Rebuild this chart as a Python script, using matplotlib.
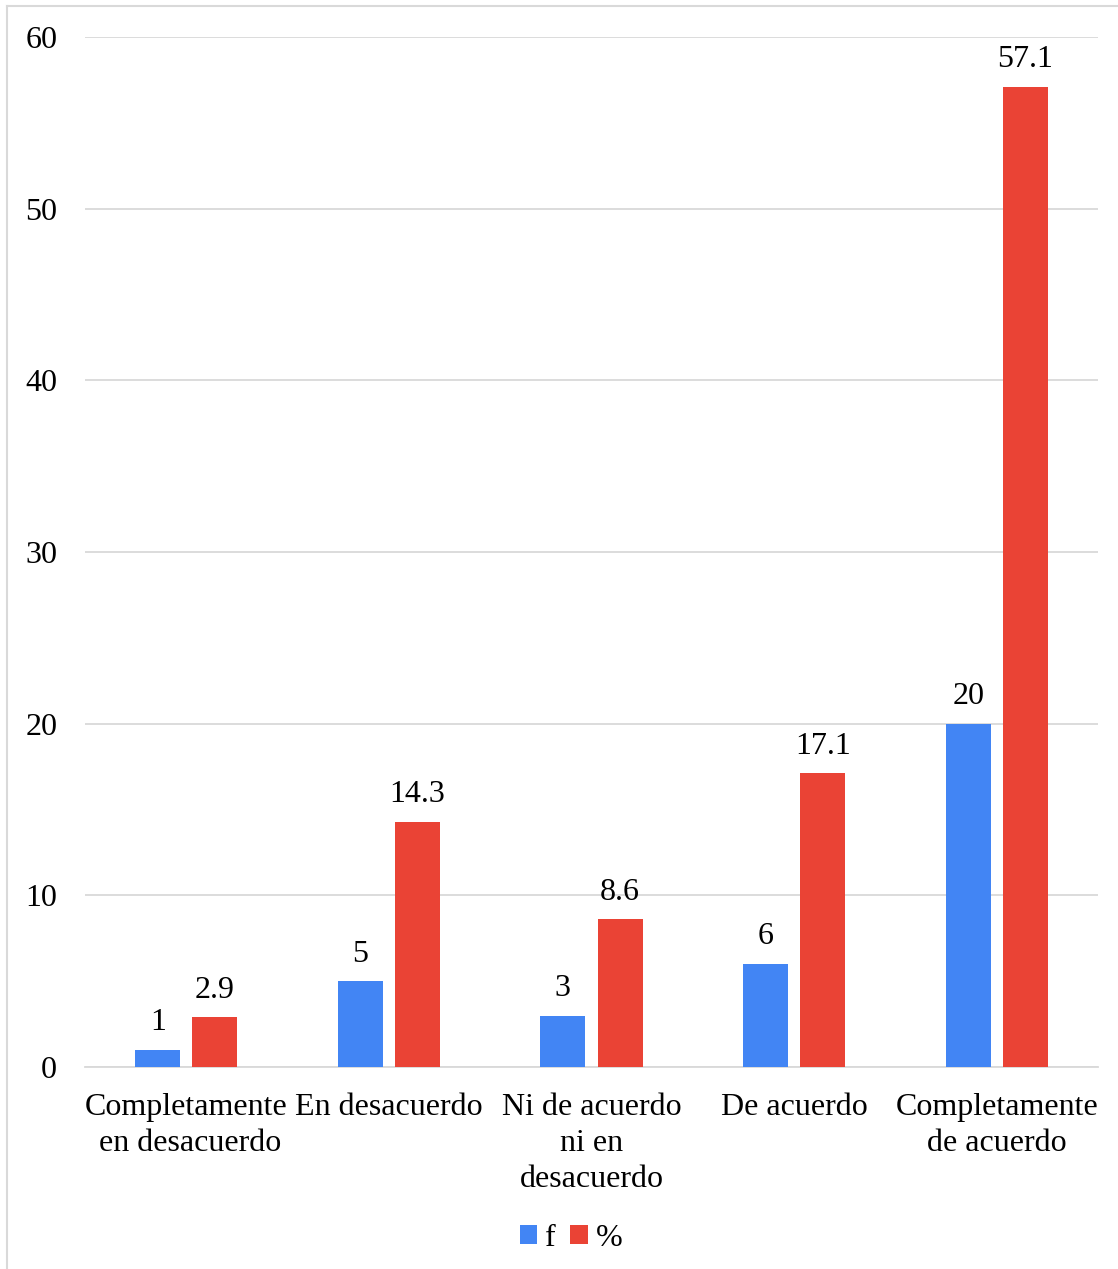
import numpy as np
import matplotlib.pyplot as plt
from matplotlib.lines import Line2D

plt.rcParams['font.family'] = ['Liberation Serif', 'DejaVu Serif']

categorias = ['Completamente\n en desacuerdo', 'En desacuerdo', 'Ni de acuerdo\nni en\ndesacuerdo',
              'De acuerdo', 'Completamente\nde acuerdo']
frecuencia = [1, 5, 3, 6, 20]
porcentaje = [2.9, 14.3, 8.6, 17.1, 57.1]

azul = '#4285F4'
rojo = '#EA4335'
fs = 23

fig = plt.figure(figsize=(11.18, 12.69), dpi=100)
ax = fig.add_axes([85/1118, 1 - 1067/1269, 1013/1118, 1030/1269])

x = np.arange(len(categorias))
w = 0.222
off = 0.141
b1 = ax.bar(x - off, frecuencia, w, color=azul, label='f', zorder=3)
b2 = ax.bar(x + off, porcentaje, w, color=rojo, label='%', zorder=3)

for barras, vals in ((b1, frecuencia), (b2, porcentaje)):
    for b, v in zip(barras, vals):
        ax.annotate(f'{v:g}', (b.get_x() + b.get_width()/2, v), xytext=(0, 9),
                    textcoords='offset points', ha='center', va='bottom', fontsize=fs)

ax.set_xlim(-0.5, 4.5)
ax.set_ylim(0, 60)
ax.set_yticks(range(0, 61, 10))
ax.set_xticks(x)
ax.set_xticklabels(categorias, fontsize=fs, linespacing=1.32)
ax.tick_params(axis='y', labelsize=fs, length=0, pad=20)
ax.tick_params(axis='x', length=0, pad=19)
ax.grid(axis='y', color='#d9d9d9', linewidth=1.3, zorder=0)
for s in ['top', 'right', 'left']:
    ax.spines[s].set_visible(False)
ax.spines['bottom'].set_color('#d9d9d9')
ax.spines['bottom'].set_linewidth(1.3)

# marco exterior
fig.add_artist(Line2D([7/1118, 7/1118], [0, 1 - 6/1269], color='#d9d9d9', lw=1.5))
fig.add_artist(Line2D([7/1118, 1], [1 - 6/1269, 1 - 6/1269], color='#d9d9d9', lw=1.5))

fig.legend(handles=[b1, b2], loc='center', bbox_to_anchor=(571/1118, 1 - 1238/1269),
           ncol=2, frameon=False, fontsize=fs, handlelength=0.55, handleheight=0.55,
           handletextpad=0.25, columnspacing=0.45)

fig.savefig('out.png', dpi=100)
